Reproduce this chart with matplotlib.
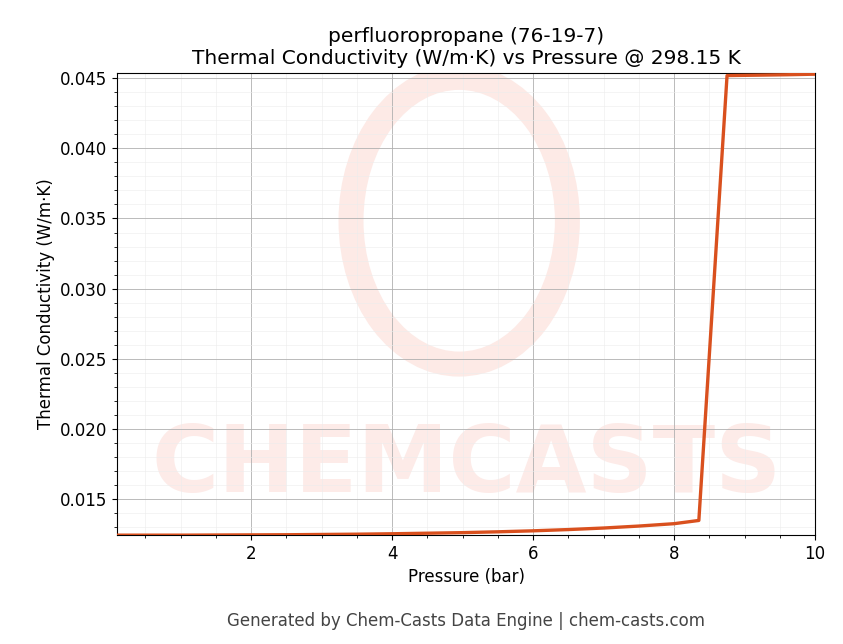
import matplotlib
matplotlib.use("Agg")
import matplotlib.pyplot as plt
from matplotlib.patches import Ellipse

pressure = [0.1, 0.5, 1.0, 1.5, 2.0, 2.5, 3.0, 3.5, 4.0, 4.5, 5.0, 5.5, 6.0, 6.5, 7.0, 7.5, 8.0, 8.35, 8.75, 9.2, 9.6, 10.0]
conductivity = [0.01240, 0.01240, 0.01240, 0.01241, 0.01242, 0.01243, 0.01245, 0.01247, 0.01250, 0.01254, 0.01258, 0.01264, 0.01271, 0.01280, 0.01291, 0.01305, 0.01322, 0.01345, 0.04520, 0.04523, 0.04526, 0.04530]

fig = plt.figure(figsize=(8.43, 6.44), dpi=100)
ax = fig.add_axes([0.139, 0.169, 0.828, 0.718])
ax.plot(pressure, conductivity, color="#d9501e", lw=2.4, zorder=3)
ax.set_xlim(0.1, 10)
ax.set_ylim(0.0124, 0.0454)
ax.set_xticks([2, 4, 6, 8, 10])
ax.set_yticks([0.015, 0.020, 0.025, 0.030, 0.035, 0.040, 0.045])
ax.minorticks_on()
ax.grid(True, which="major", color="#b0b0b0", lw=0.6)
ax.grid(True, which="minor", color="#ececec", lw=0.4)
ax.tick_params(labelsize=12)
ax.set_xlabel("Pressure (bar)", fontsize=12)
ax.set_ylabel("Thermal Conductivity (W/m·K)", fontsize=12)
ax.set_title("perfluoropropane (76-19-7)\nThermal Conductivity (W/m·K) vs Pressure @ 298.15 K", fontsize=14.5)
ax.add_patch(Ellipse((0.49, 0.68), 0.31, 0.62, transform=ax.transAxes, fill=False, ec="#fdeae6", lw=18, zorder=1))
ax.text(0.5, 0.15, "CHEMCASTS", transform=ax.transAxes, ha="center", va="center",
        fontsize=66, fontweight="bold", color="#fdebe8", zorder=1)
fig.text(0.553, 0.028, "Generated by Chem-Casts Data Engine | chem-casts.com", ha="center", fontsize=12, color="#444444")
fig.savefig("out.png", dpi=100)
